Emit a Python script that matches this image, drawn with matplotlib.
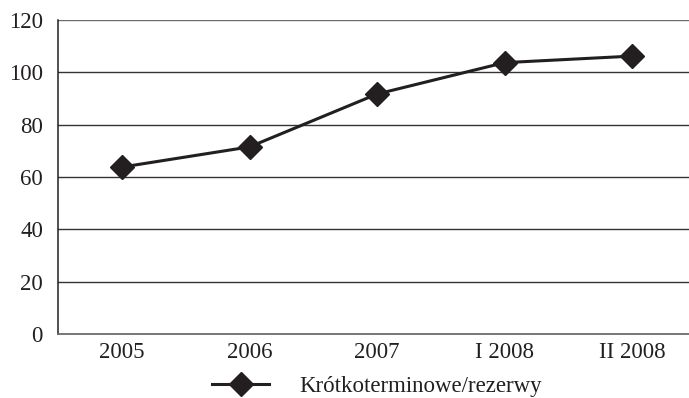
import matplotlib.pyplot as plt

# Short-term debt to reserves ratio
periods = ['2005', '2006', '2007', 'I 2008', 'II 2008']
ratio = [63.8, 71.5, 91.7, 103.7, 106.2]
series_label = 'Krótkoterminowe/rezerwy'
y_ticks = [0, 20, 40, 60, 80, 100, 120]

plt.rcParams['font.family'] = ['Liberation Serif', 'DejaVu Serif']

fig = plt.figure(figsize=(6.89, 3.98), dpi=100)
W, H = 689, 398
# plot area runs slightly past the right edge of the figure
ax = fig.add_axes([58.25 / W, 1 - 334 / H, (695.75 - 58.25) / W, (334 - 20) / H])

x = list(range(len(periods)))
ax.plot(x, ratio, color='#231f20', linewidth=2.2, marker='D', markersize=12,
        label=series_label, zorder=3)

ax.set_xlim(-0.5, len(periods) - 0.5)
ax.set_ylim(0, 120)
ax.set_yticks(y_ticks)
ax.set_xticks(x)
ax.set_xticklabels(periods)

for yv in y_ticks[1:]:
    ax.axhline(yv, color='#333333' if yv < 120 else '#6b6b6b', linewidth=1.0, zorder=1)

for side in ['top', 'right']:
    ax.spines[side].set_visible(False)
ax.spines['left'].set_color('#231f20')
ax.spines['left'].set_linewidth(1.1)
ax.spines['bottom'].set_color('#6b6b6b')
ax.spines['bottom'].set_linewidth(1.3)

ax.tick_params(axis='both', length=0, labelsize=16.5, colors='#231f20')
ax.tick_params(axis='y', pad=11)
ax.tick_params(axis='x', pad=6)

fig.legend(loc='center', bbox_to_anchor=(377 / W, 1 - 386 / H), frameon=False,
           fontsize=16.5, handlelength=2.5, handletextpad=1.3,
           borderpad=0, labelcolor='#231f20')

fig.savefig('out.png', dpi=100)
